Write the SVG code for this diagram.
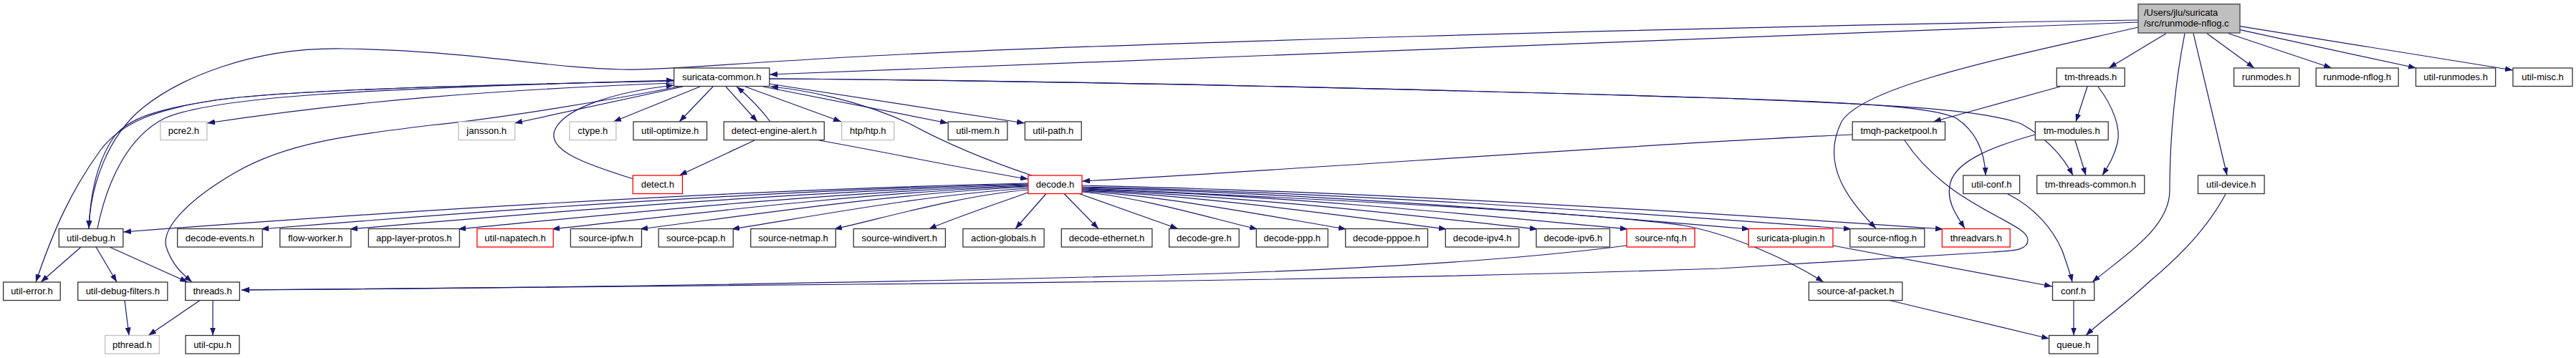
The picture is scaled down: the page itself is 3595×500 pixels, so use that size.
<svg xmlns="http://www.w3.org/2000/svg" width="3595" height="500" viewBox="0 0 3595 500">
<defs>
<marker id="a" viewBox="0 0 11 8" refX="11" refY="4" markerWidth="11" markerHeight="8" markerUnits="userSpaceOnUse" orient="auto">
<path d="M0,0 L11,4 L0,8 z" fill="#191970"/>
</marker>
<style>
.n rect{fill:#fff;stroke:#333;stroke-width:1.3}
.g rect{stroke:#bfbfbf}
.r rect{stroke:#ff0000}
.n text{font-family:"Liberation Sans",Arial,sans-serif;font-size:13px;fill:#000;text-anchor:middle}
#edges path{fill:none;stroke:#191970;stroke-width:1.2;marker-end:url(#a)}
</style>
</defs>
<rect width="3595" height="500" fill="#fff"/>
<g id="edges">
<!-- root edges -->
<path d="M2984,31 C2200,60 1500,92 1074,104"/>
<path d="M2984,28 C2400,37 1500,62 1200,79 C1000,90 920,98 868,97 C760,95 650,70 478,68 C350,66 250,110 200,150 C150,190 126,260 124,319"/>
<path d="M3023,46.7 L2943,95"/>
<path d="M2984,38 C2800,80 2600,120 2570,170 C2540,230 2580,280 2618,319"/>
<path d="M3049,46.7 C3035,120 3028,200 3028,266 C3028,320 2960,360 2920,394"/>
<path d="M3061,46.7 L3108,245"/>
<path d="M3080,46.7 L3146,95"/>
<path d="M3110,46.7 L3254,95"/>
<path d="M3126,41.7 L3372,95"/>
<path d="M3126,36.7 L3507,98"/>
<!-- suricata-common edges -->
<path d="M940.6,113 C700,118 400,125 300,140 C220,152 180,165 160,190 C135,225 126,270 124,319"/>
<path d="M940.6,113 C700,118 400,125 300,140 C220,152 170,170 140,210 C100,265 75,320 50,394"/>
<path d="M136,319 C150,250 180,190 230,165 C300,135 500,124 940.6,112"/>
<path d="M940.6,116 C700,125 500,140 289,172"/>
<path d="M950,120.5 C850,140 700,165 600,175 C480,190 400,200 330,240 C260,280 225,320 232,345 C240,370 255,383 268,394"/>
<path d="M884,250 C820,230 760,210 775,180 C790,150 860,128 940.6,119"/>
<path d="M953,121 L718,172"/>
<path d="M977,121 L856,170"/>
<path d="M995,121 L948,170"/>
<path d="M1013,121 L1057,170"/>
<path d="M1075,170 C1060,150 1045,135 1028,121"/>
<path d="M1040,121 L1174,170"/>
<path d="M1065,121 L1323,172"/>
<path d="M1073,117 L1430,172"/>
<path d="M1073.8,110 C1500,113 2000,125 2400,137 C2600,143 2700,150 2730,165 C2760,185 2770,215 2771,245"/>
<path d="M1073.8,110 C1500,113 2000,125 2400,137 C2600,145 2760,150 2821,173 C2860,195 2880,220 2893,245"/>
<!-- detect-engine-alert -->
<path d="M1053,196 L948,245"/>
<path d="M1143,196 C1250,215 1350,237 1435,250"/>
<!-- decode.h -->
<path d="M1440,245 C1380,225 1320,200 1270,173 C1200,140 1120,125 1075,121"/>
<path d="M1435,256 C993,266 488,300 172,324"/>
<path d="M1435,257 C1060,266 632,298 364,320"/>
<path d="M1435,258 C1104,267 725,300 488,320"/>
<path d="M1435,259 C1156,268 838,301 639,320"/>
<path d="M1435,260 C1202,269 936,302 770,320"/>
<path d="M1435,261 C1245,270 1028,303 893,320"/>
<path d="M1435,263 C1290,272 1124,304 1021,320"/>
<path d="M1435,265 C1340,273 1232,305 1164,320"/>
<path d="M1437,268 C1390,285 1330,305 1296,320"/>
<path d="M1460,270.5 L1417,319.5"/>
<path d="M1485,270.5 L1533,319.5"/>
<path d="M1506,270.5 L1644,319.5"/>
<path d="M1510,268 C1596,276 1694,306 1755,320"/>
<path d="M1510,267 C1639,275 1787,305 1879,320"/>
<path d="M1510,266 C1688,274 1892,304 2019,320"/>
<path d="M1510,265 C1733,273 1987,303 2146,320"/>
<path d="M1510,264 C1777,272 2082,302 2272,320"/>
<path d="M1510,262 C1836,270 2209,300 2442,320"/>
<path d="M1510,261 C1886,269 2316,300 2584,320"/>
<path d="M1510,259 C1931,268 2411,299 2712,320"/>
<path d="M1510,263 C1900,280 2250,300 2350,315 C2420,328 2500,365 2545,394"/>
<!-- tm-threads -->
<path d="M2875,121 L2698,170"/>
<path d="M2913,121 L2897,170"/>
<path d="M2928,121 C2950,150 2960,180 2955,200 C2950,220 2942,232 2934,245"/>
<path d="M2896,196 L2911,245"/>
<path d="M2840,188 C2780,205 2730,225 2722,255 C2715,280 2730,300 2742,319"/>
<path d="M2585,188 C2300,200 1800,238 1510,253"/>
<path d="M2658,196 C2720,290 2830,310 2830,335 C2830,350 2810,350 2780,352 C2600,362 2450,372 2400,375 C2100,385 1700,393 1200,397 C800,401 500,404 337,405"/>
<path d="M2270,343 C2100,365 1900,375 1700,382 C1300,394 700,403 337,405"/>
<!-- lower -->
<path d="M2558,343 L2864,400"/>
<path d="M2802,271 C2840,290 2865,320 2878,350 C2885,370 2890,385 2892,394"/>
<path d="M2894,420 L2894,468.5"/>
<path d="M2637,419.5 L2860,473"/>
<path d="M3106,271 C3080,320 3040,360 3000,393 C2960,430 2930,450 2911,468.5"/>
<!-- util-debug / threads -->
<path d="M113,345 L57,394"/>
<path d="M134,345 L163,394"/>
<path d="M153,345 L262,394"/>
<path d="M174,419.5 L180,468.5"/>
<path d="M279,419.5 L207,468.5"/>
<path d="M297,419.5 L297,468.5"/>
</g>
<g id="root" class="n"><rect x="2984" y="5.7" width="142" height="40.3" style="fill:#bfbfbf;stroke:#404040"/><text x="2992" y="22" style="text-anchor:start">/Users/jlu/suricata</text><text x="2992" y="37" style="text-anchor:start">/src/runmode-nflog.c</text></g>
<g id="suricata-common" class="n"><rect x="940.6" y="95" width="133.2" height="25.5"/><text x="1007.2" y="112.3">suricata-common.h</text></g>
<g id="tm-threads" class="n"><rect x="2870.3" y="95" width="94.9" height="25.5"/><text x="2917.8" y="112.3">tm-threads.h</text></g>
<g id="runmodes" class="n"><rect x="3117.6" y="95" width="91.1" height="25.5"/><text x="3163.2" y="112.3">runmodes.h</text></g>
<g id="runmode-nflog" class="n"><rect x="3232.2" y="95" width="115" height="25.5"/><text x="3289.7" y="112.3">runmode-nflog.h</text></g>
<g id="util-runmodes" class="n"><rect x="3371.5" y="95" width="111.2" height="25.5"/><text x="3427.1" y="112.3">util-runmodes.h</text></g>
<g id="util-misc" class="n"><rect x="3507" y="95" width="83" height="25.5"/><text x="3548.5" y="112.3">util-misc.h</text></g>
<g id="pcre2" class="n g"><rect x="223.9" y="170" width="65" height="25.5"/><text x="256.4" y="187.3">pcre2.h</text></g>
<g id="jansson" class="n g"><rect x="639.8" y="170" width="78.8" height="25.5"/><text x="679.2" y="187.3">jansson.h</text></g>
<g id="ctype" class="n g"><rect x="794.8" y="170" width="65" height="25.5"/><text x="827.3" y="187.3">ctype.h</text></g>
<g id="util-optimize" class="n"><rect x="883.9" y="170" width="102.6" height="25.5"/><text x="935.2" y="187.3">util-optimize.h</text></g>
<g id="detect-engine-alert" class="n"><rect x="1010.2" y="170" width="140.1" height="25.5"/><text x="1080.3" y="187.3">detect-engine-alert.h</text></g>
<g id="htp" class="n g"><rect x="1174.7" y="170" width="73.1" height="25.5"/><text x="1211.3" y="187.3">htp/htp.h</text></g>
<g id="util-mem" class="n"><rect x="1323.2" y="170" width="82.7" height="25.5"/><text x="1364.6" y="187.3">util-mem.h</text></g>
<g id="util-path" class="n"><rect x="1430.4" y="170" width="78.8" height="25.5"/><text x="1469.8" y="187.3">util-path.h</text></g>
<g id="tmqh-packetpool" class="n"><rect x="2585.2" y="170" width="129.3" height="25.5"/><text x="2649.9" y="187.3">tmqh-packetpool.h</text></g>
<g id="tm-modules" class="n"><rect x="2840.4" y="170" width="101.8" height="25.5"/><text x="2891.3" y="187.3">tm-modules.h</text></g>
<g id="detect" class="n r"><rect x="883.2" y="245" width="69.2" height="25.5"/><text x="917.8" y="262.3">detect.h</text></g>
<g id="decode" class="n r"><rect x="1434.9" y="245" width="75.1" height="25.5"/><text x="1472.5" y="262.3">decode.h</text></g>
<g id="util-conf" class="n"><rect x="2739.8" y="245" width="78.8" height="25.5"/><text x="2779.2" y="262.3">util-conf.h</text></g>
<g id="tm-threads-common" class="n"><rect x="2842.7" y="245" width="150" height="25.5"/><text x="2917.7" y="262.3">tm-threads-common.h</text></g>
<g id="util-device" class="n"><rect x="3067.5" y="245" width="92.6" height="25.5"/><text x="3113.8" y="262.3">util-device.h</text></g>
<g id="util-debug" class="n"><rect x="82.3" y="319.5" width="89.5" height="25.5"/><text x="127.1" y="336.8">util-debug.h</text></g>
<g id="decode-events" class="n"><rect x="247.6" y="319.5" width="118.6" height="25.5"/><text x="306.9" y="336.8">decode-events.h</text></g>
<g id="flow-worker" class="n"><rect x="390.7" y="319.5" width="99.1" height="25.5"/><text x="440.3" y="336.8">flow-worker.h</text></g>
<g id="app-layer-protos" class="n"><rect x="514.3" y="319.5" width="127" height="25.5"/><text x="577.8" y="336.8">app-layer-protos.h</text></g>
<g id="util-napatech" class="n r"><rect x="665.8" y="319.5" width="106.4" height="25.5"/><text x="719" y="336.8">util-napatech.h</text></g>
<g id="source-ipfw" class="n"><rect x="796.3" y="319.5" width="99.1" height="25.5"/><text x="845.9" y="336.8">source-ipfw.h</text></g>
<g id="source-pcap" class="n"><rect x="919.1" y="319.5" width="104.1" height="25.5"/><text x="971.2" y="336.8">source-pcap.h</text></g>
<g id="source-netmap" class="n"><rect x="1047.7" y="319.5" width="118.6" height="25.5"/><text x="1107" y="336.8">source-netmap.h</text></g>
<g id="source-windivert" class="n"><rect x="1191.2" y="319.5" width="128.2" height="25.5"/><text x="1255.3" y="336.8">source-windivert.h</text></g>
<g id="action-globals" class="n"><rect x="1343.9" y="319.5" width="113.2" height="25.5"/><text x="1400.5" y="336.8">action-globals.h</text></g>
<g id="decode-ethernet" class="n"><rect x="1481.3" y="319.5" width="126.6" height="25.5"/><text x="1544.6" y="336.8">decode-ethernet.h</text></g>
<g id="decode-gre" class="n"><rect x="1631.6" y="319.5" width="97.6" height="25.5"/><text x="1680.4" y="336.8">decode-gre.h</text></g>
<g id="decode-ppp" class="n"><rect x="1753.3" y="319.5" width="99.9" height="25.5"/><text x="1803.3" y="336.8">decode-ppp.h</text></g>
<g id="decode-pppoe" class="n"><rect x="1877.7" y="319.5" width="114.8" height="25.5"/><text x="1935.1" y="336.8">decode-pppoe.h</text></g>
<g id="decode-ipv4" class="n"><rect x="2017.3" y="319.5" width="102.6" height="25.5"/><text x="2068.6" y="336.8">decode-ipv4.h</text></g>
<g id="decode-ipv6" class="n"><rect x="2144" y="319.5" width="102.6" height="25.5"/><text x="2195.3" y="336.8">decode-ipv6.h</text></g>
<g id="source-nfq" class="n r"><rect x="2270.3" y="319.5" width="94.9" height="25.5"/><text x="2317.8" y="336.8">source-nfq.h</text></g>
<g id="suricata-plugin" class="n r"><rect x="2440.2" y="319.5" width="117.8" height="25.5"/><text x="2499.1" y="336.8">suricata-plugin.h</text></g>
<g id="source-nflog" class="n"><rect x="2581.8" y="319.5" width="104" height="25.5"/><text x="2633.8" y="336.8">source-nflog.h</text></g>
<g id="threadvars" class="n r"><rect x="2710.3" y="319.5" width="94.9" height="25.5"/><text x="2757.8" y="336.8">threadvars.h</text></g>
<g id="util-error" class="n"><rect x="4.6" y="394" width="79.6" height="25.5"/><text x="44.4" y="411.3">util-error.h</text></g>
<g id="util-debug-filters" class="n"><rect x="108.7" y="394" width="125.1" height="25.5"/><text x="171.3" y="411.3">util-debug-filters.h</text></g>
<g id="threads" class="n"><rect x="258.7" y="394" width="75.7" height="25.5"/><text x="296.6" y="411.3">threads.h</text></g>
<g id="source-af-packet" class="n"><rect x="2524.4" y="394" width="130.4" height="25.5"/><text x="2589.6" y="411.3">source-af-packet.h</text></g>
<g id="conf" class="n"><rect x="2864.5" y="394" width="58.2" height="25.5"/><text x="2893.6" y="411.3">conf.h</text></g>
<g id="pthread" class="n g"><rect x="146.6" y="468.5" width="75.7" height="25.5"/><text x="184.5" y="485.8">pthread.h</text></g>
<g id="util-cpu" class="n"><rect x="259" y="468.5" width="75" height="25.5"/><text x="296.5" y="485.8">util-cpu.h</text></g>
<g id="queue" class="n"><rect x="2859.6" y="468.5" width="68.1" height="25.5"/><text x="2893.7" y="485.8">queue.h</text></g>
</svg>
